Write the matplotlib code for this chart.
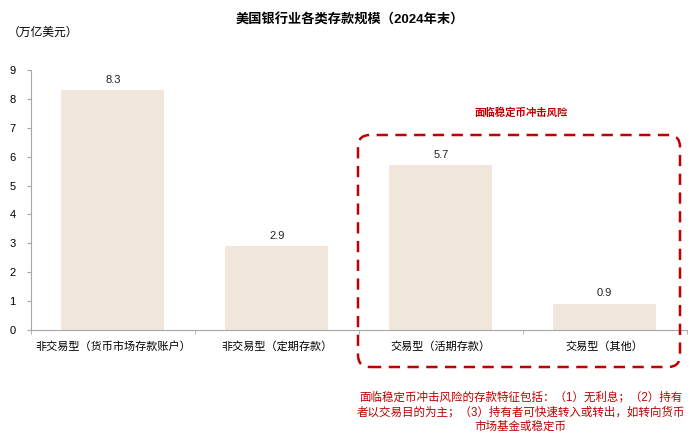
import matplotlib.pyplot as plt
from matplotlib.patches import FancyBboxPatch

plt.rcParams['font.family'] = ['Liberation Sans', 'Noto Sans CJK SC', 'DejaVu Sans']

categories = ['非交易型（货币市场存款账户）', '非交易型（定期存款）', '交易型（活期存款）', '交易型（其他）']
values = [8.3, 2.9, 5.7, 0.9]
title = '美国银行业各类存款规模（2024年末）'
unit = '（万亿美元）'
risk_label = '面临稳定币冲击风险'
note = ('面临稳定币冲击风险的存款特征包括：（1）无利息；（2）持有\n'
        '者以交易目的为主；（3）持有者可快速转入或转出，如转向货币\n'
        '市场基金或稳定币')

bar_color = '#F0E6DC'
red = '#C00000'
gray = '#A6A6A6'

fig = plt.figure(figsize=(7, 4.34), dpi=100)
ax = fig.add_axes([0.044, 0.2396, 0.937, 0.599])

x = range(len(categories))
bars = ax.bar(x, values, width=0.63, color=bar_color)
ax.bar_label(bars, labels=[f'{v:.1f}' for v in values], padding=4, fontsize=8, color='#222222')

ax.set_xlim(-0.5, 3.5)
ax.set_ylim(0, 9)
ax.set_yticks(range(10))
ax.set_xticks(list(x))
ax.set_xticklabels(categories, fontsize=8)
ax.set_xticks([-0.5, 0.5, 1.5, 2.5, 3.5], minor=True)
ax.tick_params(axis='x', which='major', length=0, pad=8)
ax.tick_params(axis='x', which='minor', length=3, color=gray)
ax.tick_params(axis='y', length=3, color=gray, labelsize=8, pad=8)
for s in ['top', 'right']:
    ax.spines[s].set_visible(False)
for s in ['left', 'bottom']:
    ax.spines[s].set_color(gray)
    ax.spines[s].set_linewidth(0.8)

fig.text(0.5, 0.953, title, ha='center', va='center', fontsize=9.5, fontweight='bold')
fig.text(0.062, 0.925, unit, ha='center', va='center', fontsize=8.5)
fig.text(0.744, 0.740, risk_label, ha='center', va='center', fontsize=7.5,
         fontweight='bold', color=red)
fig.text(0.744, 0.050, note, ha='center', va='center', fontsize=8.3, color=red,
         linespacing=1.3)

box = FancyBboxPatch((3.58, 0.67), 3.22, 2.32,
                     boxstyle='round,pad=0,rounding_size=0.12',
                     transform=fig.dpi_scale_trans, fill=False,
                     edgecolor=red, linewidth=1.8, linestyle=(0, (4.5, 3)),
                     clip_on=False)
fig.patches.append(box)

fig.savefig('out.png', dpi=100)
